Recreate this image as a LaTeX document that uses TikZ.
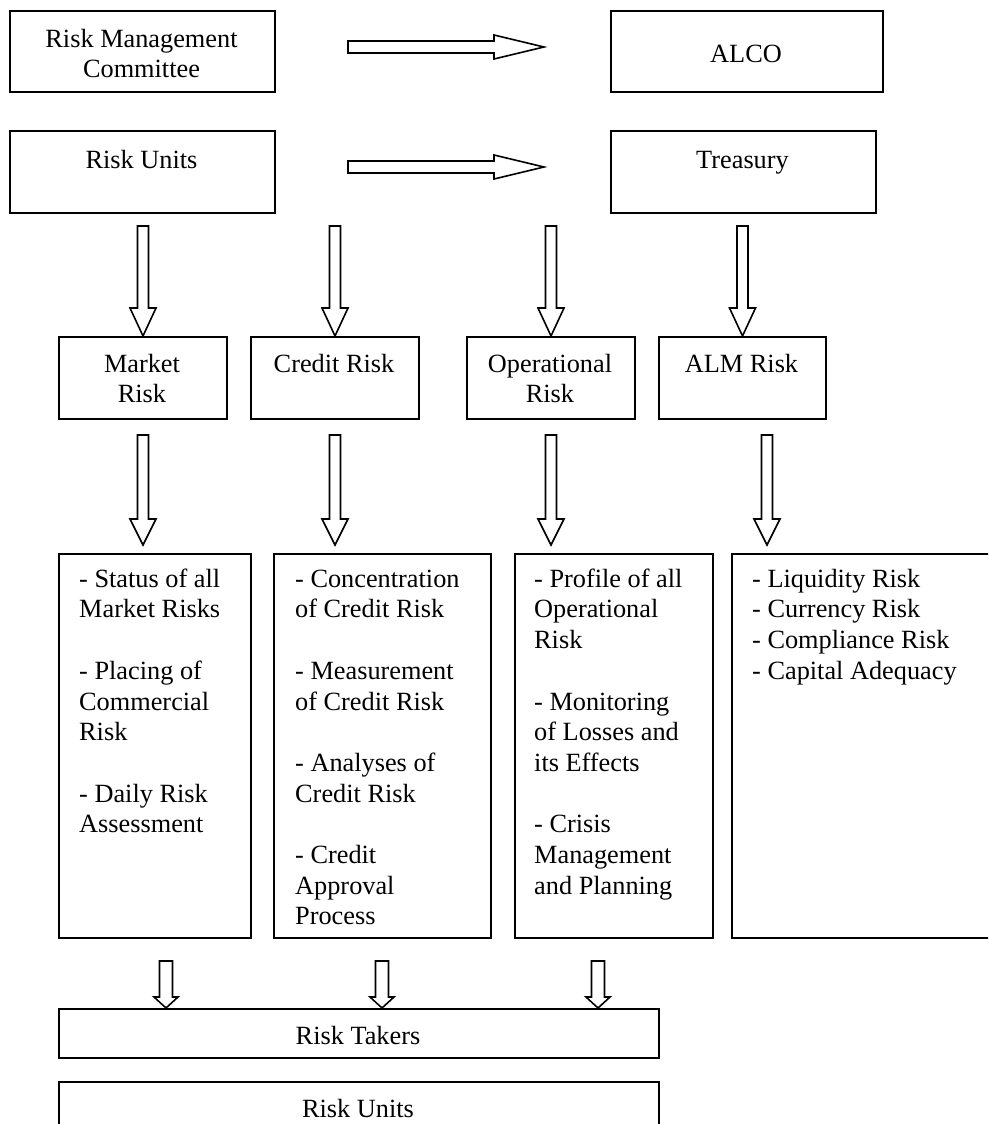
\documentclass[tikz,border=0pt]{standalone}
\usepackage{fontspec}
\setmainfont{Liberation Serif}
\usetikzlibrary{calc}
\newcommand\bigfnt{\fontsize{26.3pt}{30.7pt}\selectfont}
% vertical block arrow: #1 start (top centre), #2 tip, #3 head length, #4 shaft half width, #5 head half width
\newcommand\vblk[5]{%
  \draw[blk] ($(#1)+(-#4,0)$) -- ($(#1)+(#4,0)$) -- ($(#2)+(#4,-#3)$) -- ($(#2)+(#5,-#3)$) -- (#2)
    -- ($(#2)+(-#5,-#3)$) -- ($(#2)+(-#4,-#3)$) -- cycle;}
% horizontal block arrow
\newcommand\hblk[5]{%
  \draw[blk] ($(#1)+(0,-#4)$) -- ($(#2)+(-#3,-#4)$) -- ($(#2)+(-#3,-#5)$) -- (#2)
    -- ($(#2)+(-#3,#5)$) -- ($(#2)+(-#3,#4)$) -- ($(#1)+(0,#4)$) -- cycle;}
\begin{document}
\begin{tikzpicture}[x=1pt,y=-1pt,
  box/.style={draw, line width=2pt, inner sep=0pt, anchor=north west},
  blk/.style={draw, line width=1.6pt, fill=white, line join=miter},
  tl/.style={inner sep=0pt, font=\bigfnt, align=left, anchor=north west},
  tc/.style={inner sep=0pt, font=\bigfnt, align=center, anchor=north}]
\useasboundingbox (0,0) rectangle (988,1124);
\clip (0,0) rectangle (988,1124);
\fill[white] (0,0) rectangle (988,1124);

% boxes
\node[box, minimum width=265pt, minimum height=81pt] (rmc) at (9,10) {};
\node[box, minimum width=272pt, minimum height=81pt] (alco) at (610,10) {};
\node[box, minimum width=265pt, minimum height=82pt] (ru) at (9,130) {};
\node[box, minimum width=265pt, minimum height=82pt] (tre) at (610,130) {};
\node[box, minimum width=168pt, minimum height=82pt] (mr) at (58,336) {};
\node[box, minimum width=168pt, minimum height=82pt] (cr) at (250,336) {};
\node[box, minimum width=168pt, minimum height=82pt] (opr) at (466,336) {};
\node[box, minimum width=167pt, minimum height=82pt] (alm) at (658,336) {};
\node[box, minimum width=192pt, minimum height=384pt] (b1) at (58,553) {};
\node[box, minimum width=217pt, minimum height=384pt] (b2) at (273,553) {};
\node[box, minimum width=198pt, minimum height=384pt] (b3) at (514,553) {};
\node[box, minimum width=300pt, minimum height=384pt] (b4) at (731,553) {};
\node[box, minimum width=600pt, minimum height=49pt] (rt) at (58,1008) {};
\node[box, minimum width=600pt, minimum height=80pt] (ru2) at (58,1081) {};

% texts
\node[tc] (trmc) at (141.5,25.5) {\strut Risk Management\\Committee};
\node[tc] (talco) at (746,40.5) {\strut ALCO};
\node[tc] (tru) at (141.5,146.5) {\strut Risk Units};
\node[tc] (ttre) at (742.5,146.5) {\strut Treasury};
\node[tc] (tmr) at (142,350.5) {\strut Market\\Risk};
\node[tc] (tcr) at (334,350.5) {\strut Credit Risk};
\node[tc] (topr) at (550,350.5) {\strut Operational\\Risk};
\node[tc] (talm) at (741.5,350.5) {\strut ALM Risk};
\node[tl] (tb1) at (79,565.5) {\strut - Status of all\\Market Risks\\[30.7pt]- Placing of\\Commercial\\Risk\\[30.7pt]- Daily Risk\\Assessment};
\node[tl] (tb2) at (295,565.5) {\strut - Concentration\\of Credit Risk\\[30.7pt]- Measurement\\of Credit Risk\\[30.7pt]- Analyses of\\Credit Risk\\[30.7pt]- Credit\\Approval\\Process};
\node[tl] (tb3) at (534,565.5) {\strut - Profile of all\\Operational\\Risk\\[30.7pt]- Monitoring\\of Losses and\\its Effects\\[30.7pt]- Crisis\\Management\\and Planning};
\node[tl] (tb4) at (752,565.5) {\strut - Liquidity Risk\\- Currency Risk\\- Compliance Risk\\- Capital Adequacy};
\node[tc] (trt) at (358,1022.5) {\strut Risk Takers};
\node[tc] (tru2) at (358,1095.5) {\strut Risk Units};

% arrow end points
\coordinate (h1s) at ($(rmc.east)+(72,-4.5)$);
\coordinate (h1t) at ($(alco.west)+(-66,-4.5)$);
\coordinate (h2s) at ($(ru.east)+(72,-5)$);
\coordinate (h2t) at ($(tre.west)+(-66,-5)$);
\hblk{h1s}{h1t}{50}{6}{12}
\hblk{h2s}{h2t}{50}{6}{12}

\foreach \n in {mr,cr,opr,alm}{
  \coordinate (\n-a) at ($(\n.north)+(0,-110)$);
  \vblk{\n-a}{\n.north}{28}{5.5}{13}
}
\coordinate (d1s) at ($(mr.south)+(0,15)$);   \coordinate (d1t) at ($(mr.south)+(0,125)$);
\coordinate (d2s) at ($(cr.south)+(0,15)$);   \coordinate (d2t) at ($(cr.south)+(0,125)$);
\coordinate (d3s) at ($(opr.south)+(0,15)$);  \coordinate (d3t) at ($(opr.south)+(0,125)$);
\coordinate (d4s) at ($(alm.south)+(24.5,15)$); \coordinate (d4t) at ($(alm.south)+(24.5,125)$);
\vblk{d1s}{d1t}{26}{5.5}{13}
\vblk{d2s}{d2t}{26}{5.5}{13}
\vblk{d3s}{d3t}{26}{5.5}{13}
\vblk{d4s}{d4t}{26}{5.5}{13}

\coordinate (e1s) at (166,961); \coordinate (e1t) at (rt.north -| e1s);
\coordinate (e2s) at (382,961); \coordinate (e2t) at (rt.north -| e2s);
\coordinate (e3s) at (598,961); \coordinate (e3t) at (rt.north -| e3s);
\vblk{e1s}{e1t}{11}{6.5}{12}
\vblk{e2s}{e2t}{11}{6.5}{12}
\vblk{e3s}{e3t}{11}{6.5}{12}
\end{tikzpicture}
\end{document}
